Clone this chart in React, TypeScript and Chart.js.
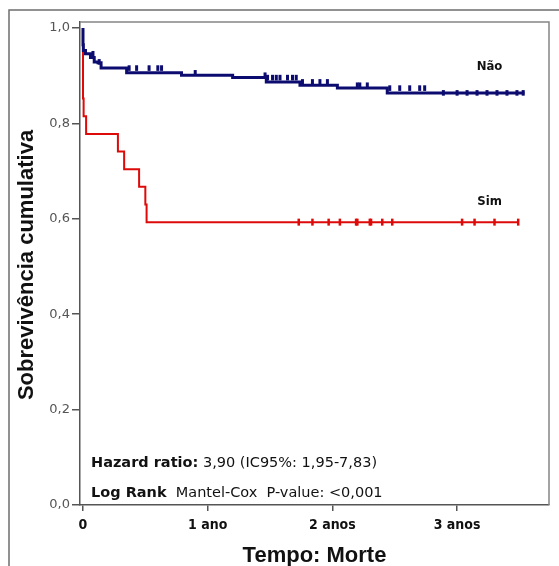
import React, { useEffect, useRef } from 'react';
import { Chart, registerables } from 'chart.js';

Chart.register(...registerables);

// ---- Data (time in years, cumulative survival) ----
const naoTimes = [0, 0.003, 0.02, 0.06, 0.09, 0.12, 0.145, 0.35, 0.79, 1.2, 1.47, 1.74, 2.04, 2.44, 2.76, 3.54];
const naoSurv = [1.0, 0.965, 0.953, 0.946, 0.938, 0.929, 0.927, 0.916, 0.906, 0.901, 0.896, 0.887, 0.88, 0.874, 0.864, 0.864];
const naoCensored = [0.08, 0.13, 0.37, 0.43, 0.53, 0.6, 0.63, 0.9, 1.46, 1.48, 1.52, 1.55, 1.58, 1.64, 1.68, 1.71, 1.76, 1.84, 1.9, 1.96, 2.2, 2.22, 2.28, 2.46, 2.54, 2.62, 2.7, 2.74, 2.89, 3.0, 3.08, 3.16, 3.24, 3.32, 3.4, 3.48, 3.53];

const simTimes = [0, 0.005, 0.025, 0.28, 0.33, 0.45, 0.5, 0.51, 0.56, 3.49];
const simSurv = [1.0, 0.852, 0.815, 0.778, 0.741, 0.704, 0.667, 0.63, 0.593, 0.593];
const simCensored = [1.73, 1.84, 1.97, 2.06, 2.19, 2.2, 2.3, 2.31, 2.4, 2.48, 3.04, 3.14, 3.3, 3.49];

const xTickLabels = ['0', '1 ano', '2 anos', '3 anos'];
const groupNames = ['Não', 'Sim'];
const groupLabelPos = [
  [3.26, 0.918],
  [3.26, 0.637],
];
const yTitle = 'Sobrevivência cumulativa';
const xTitle = 'Tempo: Morte';
const hazardSegments: [string, boolean][] = [
  ['Hazard ratio:', true],
  [' 3,90 (IC95%: 1,95-7,83)', false],
];
const logRankSegments: [string, boolean][] = [
  ['Log Rank', true],
  ['  Mantel-Cox  P-value: <0,001', false],
];

const NAO_COLOR = '#0c0c70';
const SIM_COLOR = '#dd0a0a';

function survivalAt(times: number[], surv: number[], t: number) {
  let s = surv[0];
  for (let i = 0; i < times.length; i++) if (times[i] <= t) s = surv[i];
  return s;
}

const decorPlugin = {
  id: 'decor',
  afterDraw(chart: any) {
    const { ctx, chartArea: a, scales } = chart;
    ctx.save();
    // outer frame
    ctx.strokeStyle = '#6e6e6e';
    ctx.lineWidth = 1.5;
    ctx.beginPath();
    ctx.moveTo(9, 570);
    ctx.lineTo(9, 10);
    ctx.lineTo(570, 10);
    ctx.stroke();
    // plot frame top and right
    ctx.strokeStyle = '#858585';
    ctx.lineWidth = 1.5;
    ctx.beginPath();
    ctx.moveTo(a.left, a.top);
    ctx.lineTo(a.right, a.top);
    ctx.lineTo(a.right, a.bottom);
    ctx.stroke();

    // group labels
    ctx.fillStyle = '#111';
    ctx.font = 'bold 13px "DejaVu Sans Condensed", "DejaVu Sans", sans-serif';
    ctx.textAlign = 'center';
    ctx.textBaseline = 'middle';
    groupNames.forEach((n, i) => {
      const x = scales.x.getPixelForValue(groupLabelPos[i][0]);
      const y = scales.y.getPixelForValue(groupLabelPos[i][1]);
      ctx.fillText(n, x, y);
    });

    // annotations
    const drawSegs = (segs: [string, boolean][], x: number, y: number) => {
      ctx.textAlign = 'left';
      ctx.textBaseline = 'middle';
      let cx = x;
      segs.forEach(([t, b]) => {
        ctx.font = (b ? 'bold ' : '') + '14.5px "DejaVu Sans", sans-serif';
        ctx.fillText(t, cx, y);
        cx += ctx.measureText(t).width;
      });
    };
    ctx.fillStyle = '#111';
    drawSegs(hazardSegments, a.left + 11, a.bottom - 42);
    drawSegs(logRankSegments, a.left + 11, a.bottom - 12);

    // axis titles
    ctx.fillStyle = '#111';
    ctx.font = 'bold 22px "Liberation Sans", Arial, sans-serif';
    ctx.textAlign = 'center';
    ctx.textBaseline = 'alphabetic';
    ctx.fillText(xTitle, (a.left + a.right) / 2, 562);
    ctx.save();
    ctx.translate(33, 265);
    ctx.rotate(-Math.PI / 2);
    ctx.fillText(yTitle, 0, 0);
    ctx.restore();
    ctx.restore();
  },
};

export default function App() {
  const ref = useRef<HTMLCanvasElement>(null);
  useEffect(() => {
    if (!ref.current) return;
    const chart = new Chart(ref.current, {
      type: 'line',
      data: {
        datasets: [
          {
            label: groupNames[0],
            data: naoTimes.map((t, i) => ({ x: t, y: naoSurv[i] })),
            stepped: 'after',
            borderColor: NAO_COLOR,
            borderWidth: 3,
            pointRadius: 0,
            fill: false,
          },
          {
            label: groupNames[0] + ' censurado',
            data: naoCensored.map((t) => ({ x: t, y: survivalAt(naoTimes, naoSurv, t) })),
            showLine: false,
            pointStyle: 'line',
            rotation: 90,
            pointRadius: 2.8,
            pointBorderWidth: 3,
            pointBorderColor: NAO_COLOR,
            borderColor: NAO_COLOR,
          },
          {
            label: groupNames[1],
            data: simTimes.map((t, i) => ({ x: t, y: simSurv[i] })),
            stepped: 'after',
            borderColor: SIM_COLOR,
            borderWidth: 2,
            pointRadius: 0,
            fill: false,
          },
          {
            label: groupNames[1] + ' censurado',
            data: simCensored.map((t) => ({ x: t, y: survivalAt(simTimes, simSurv, t) })),
            showLine: false,
            pointStyle: 'line',
            rotation: 90,
            pointRadius: 3.5,
            pointBorderWidth: 2.5,
            pointBorderColor: SIM_COLOR,
            borderColor: SIM_COLOR,
          },
        ],
      },
      options: {
        animation: false,
        responsive: false,
        devicePixelRatio: 1,
        layout: { padding: { top: 22, right: 10, left: 0, bottom: 0 } },
        plugins: { legend: { display: false }, tooltip: { enabled: false } },
        scales: {
          x: {
            type: 'linear',
            min: -0.024,
            max: 3.737,
            afterFit: (s: any) => {
              s.height = 61;
            },
            border: { display: true, color: '#555', width: 1.5 },
            grid: { display: true, drawOnChartArea: false, drawTicks: true, tickLength: 6, color: '#555', lineWidth: 1.5 },
            ticks: {
              stepSize: 1,
              includeBounds: false,
              maxRotation: 0,
              autoSkip: false,
              padding: 6,
              color: '#111',
              font: { family: '"Liberation Sans Narrow", "DejaVu Sans Condensed", sans-serif', size: 14, weight: 'bold' },
              callback: (v: any) => xTickLabels[Math.round(Number(v))] ?? '',
            },
          },
          y: {
            type: 'linear',
            min: 0,
            max: 1.0126,
            afterFit: (s: any) => {
              s.width = 80;
            },
            border: { display: true, color: '#555', width: 1.5 },
            grid: { display: true, drawOnChartArea: false, drawTicks: true, tickLength: 8, color: '#555', lineWidth: 1.5 },
            ticks: {
              stepSize: 0.2,
              includeBounds: false,
              padding: 2,
              color: '#555',
              font: { family: '"DejaVu Sans", sans-serif', size: 13 },
              callback: (v: any) => Number(v).toFixed(1).replace('.', ','),
            },
          },
        },
      },
      plugins: [decorPlugin],
    });
    return () => chart.destroy();
  }, []);
  return (
    <canvas
      ref={ref}
      width={559}
      height={566}
      style={{ position: 'absolute', left: 0, top: 0, display: 'block', width: 559, height: 566 }}
    />
  );
}
